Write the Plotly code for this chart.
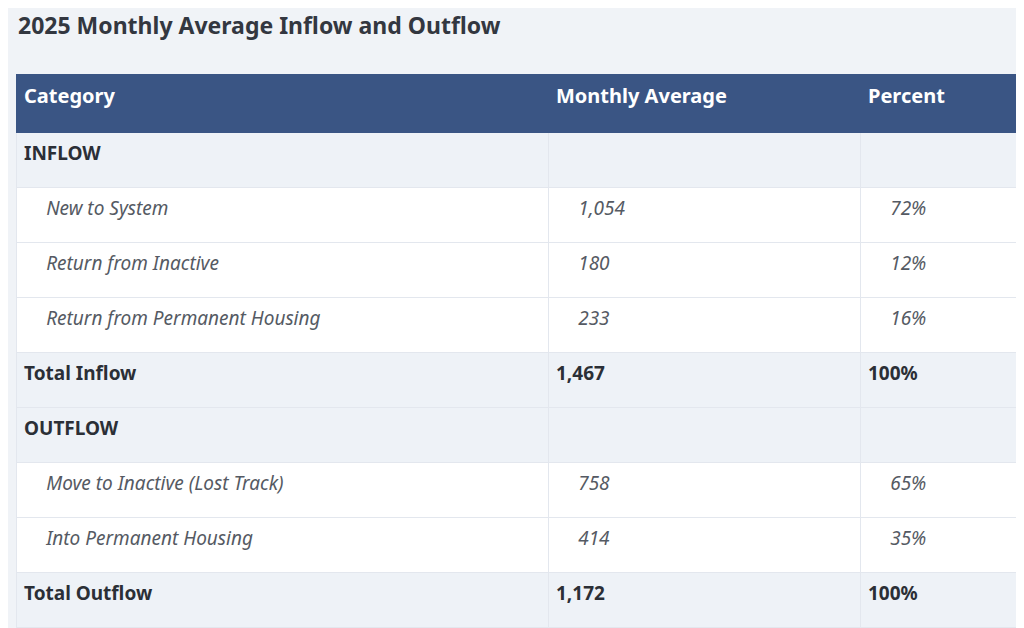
import plotly.graph_objects as go

categories = ["INFLOW", "New to System", "Return from Inactive", "Return from Permanent Housing", "Total Inflow",
              "OUTFLOW", "Move to Inactive (Lost Track)", "Into Permanent Housing", "Total Outflow"]
averages = ["", "1,054", "180", "233", "1,467", "", "758", "414", "1,172"]
percents = ["", "72%", "12%", "16%", "100%", "", "65%", "35%", "100%"]
kinds = ["section", "item", "item", "item", "total", "section", "item", "item", "total"]

IND = "\u2003\u2009"
def fmt(t, k):
    if k == "item":
        return IND + "<i>" + t + "</i>"
    return "<b>" + t + "</b>" if t else ""

cols = [[fmt(v, k) for v, k in zip(col, kinds)] for col in (categories, averages, percents)]
fill = ["#eef2f7" if k != "item" else "#ffffff" for k in kinds]
fcol = ["#555a63" if k == "item" else "#2b2f36" for k in kinds]

fig = go.Figure(go.Table(
    columnwidth=[532, 312, 162],
    header=dict(values=["<b>Category</b>", "<b>Monthly Average</b>", "<b>Percent</b>"],
                fill_color="#3a5584", font=dict(color="white", size=20, family="Noto Sans"),
                align="left", height=58, line_color="#3a5584"),
    cells=dict(values=cols, fill_color=[fill] * 3, font=dict(color=[fcol] * 3, size=19, family="Noto Sans"),
               align="left", height=55, line=dict(color="#e3e7ee", width=1)),
))
fig.update_layout(
    width=1024, height=628, paper_bgcolor="#f0f3f7",
    margin=dict(l=8, r=10, t=66, b=0),
    annotations=[dict(text="<b>2025 Monthly Average Inflow and Outflow</b>", x=8, y=18, xref="paper",
                      yref="paper", showarrow=False, font=dict(size=23, color="#333740", family="Noto Sans"))],
)
fig.layout.annotations[0].update(xref="paper", yref="paper", x=0, y=1, yshift=49, xanchor="left", yanchor="middle")
fig.write_html("out.html")
